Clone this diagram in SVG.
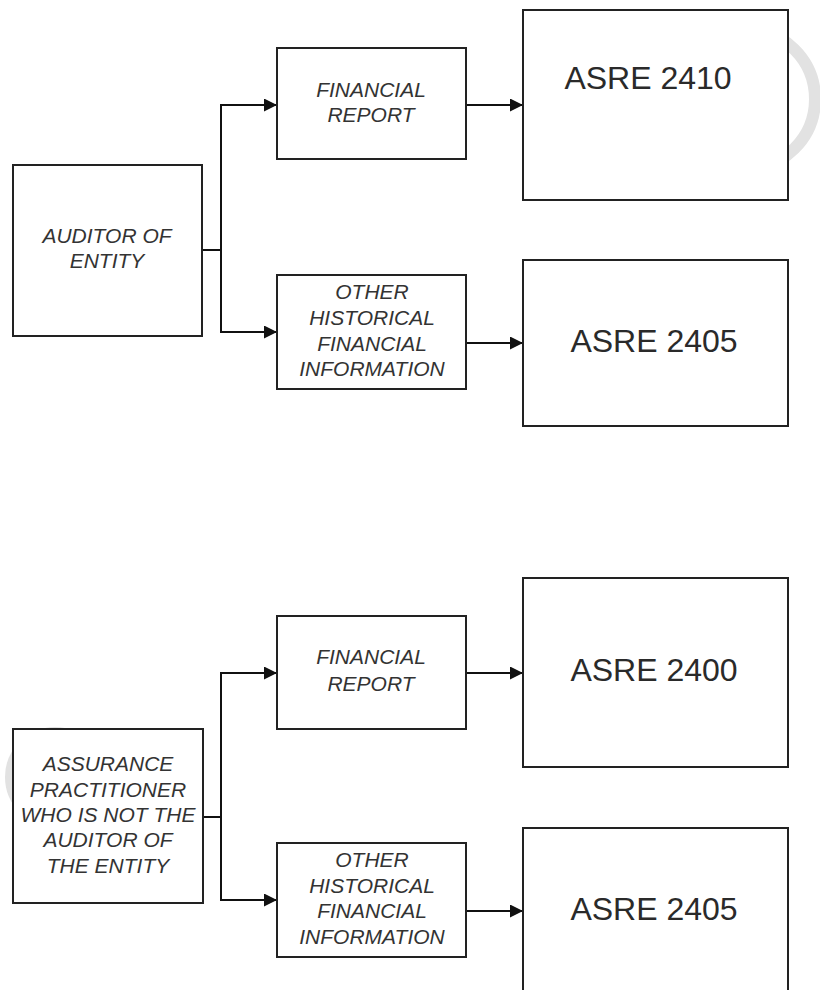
<svg xmlns="http://www.w3.org/2000/svg" width="820" height="990" viewBox="0 0 820 990">
<style>
.box{fill:#fff;stroke:#222;stroke-width:2}
.lbl{font-family:"Liberation Sans",Arial,sans-serif;font-style:italic;font-size:21px;fill:#333;text-anchor:middle}
.big{font-family:"Liberation Sans",Arial,sans-serif;font-size:32px;fill:#2a2a2a;text-anchor:middle}
.con{fill:none;stroke:#111;stroke-width:2}
.wm{fill:none;stroke:#e2e2e2}
</style>
<defs>
<marker id="arr" viewBox="0 0 14 14" refX="14" refY="7" markerUnits="userSpaceOnUse" markerWidth="14" markerHeight="13" orient="auto">
<path d="M0,0 L14,7 L0,14 z" fill="#111"/>
</marker>
</defs>
<rect width="820" height="990" fill="#fff"/>
<g id="watermark">
<circle class="wm" cx="745" cy="99" r="70" stroke-width="12"/>
<circle class="wm" cx="55" cy="777" r="45" stroke-width="10"/>
</g>
<g id="connectors">
<path class="con" d="M202,250 H221"/>
<path class="con" d="M221,250 V105 H277" marker-end="url(#arr)"/>
<path class="con" d="M221,250 V332 H277" marker-end="url(#arr)"/>
<path class="con" d="M466,105 H523" marker-end="url(#arr)"/>
<path class="con" d="M466,343 H523" marker-end="url(#arr)"/>
<path class="con" d="M203,817 H221"/>
<path class="con" d="M221,817 V673 H277" marker-end="url(#arr)"/>
<path class="con" d="M221,817 V900 H277" marker-end="url(#arr)"/>
<path class="con" d="M466,673 H523" marker-end="url(#arr)"/>
<path class="con" d="M466,911 H523" marker-end="url(#arr)"/>
</g>
<g id="auditor">
<rect class="box" x="13" y="165" width="189" height="171"/>
<text class="lbl" x="107" y="243">AUDITOR OF</text>
<text class="lbl" x="107" y="268">ENTITY</text>
</g>
<g id="fin-top">
<rect class="box" x="277" y="48" width="189" height="111"/>
<text class="lbl" x="371" y="97">FINANCIAL</text>
<text class="lbl" x="371" y="122">REPORT</text>
</g>
<g id="asre2410">
<rect class="box" x="523" y="10" width="265" height="190"/>
<text class="big" x="648" y="89">ASRE 2410</text>
</g>
<g id="other-top">
<rect class="box" x="277" y="275" width="189" height="114"/>
<text class="lbl" x="372" y="299">OTHER</text>
<text class="lbl" x="372" y="325">HISTORICAL</text>
<text class="lbl" x="372" y="351">FINANCIAL</text>
<text class="lbl" x="372" y="376">INFORMATION</text>
</g>
<g id="asre2405-top">
<rect class="box" x="523" y="260" width="265" height="166"/>
<text class="big" x="654" y="352">ASRE 2405</text>
</g>
<g id="assurance">
<rect class="box" x="13" y="729" width="190" height="174"/>
<text class="lbl" x="108" y="771">ASSURANCE</text>
<text class="lbl" x="108" y="797">PRACTITIONER</text>
<text class="lbl" x="108" y="822">WHO IS NOT THE</text>
<text class="lbl" x="108" y="847">AUDITOR OF</text>
<text class="lbl" x="108" y="873">THE ENTITY</text>
</g>
<g id="fin-bottom">
<rect class="box" x="277" y="616" width="189" height="113"/>
<text class="lbl" x="371" y="664">FINANCIAL</text>
<text class="lbl" x="371" y="691">REPORT</text>
</g>
<g id="asre2400">
<rect class="box" x="523" y="578" width="265" height="189"/>
<text class="big" x="654" y="681">ASRE 2400</text>
</g>
<g id="other-bottom">
<rect class="box" x="277" y="843" width="189" height="114"/>
<text class="lbl" x="372" y="867">OTHER</text>
<text class="lbl" x="372" y="893">HISTORICAL</text>
<text class="lbl" x="372" y="918">FINANCIAL</text>
<text class="lbl" x="372" y="944">INFORMATION</text>
</g>
<g id="asre2405-bottom">
<rect class="box" x="523" y="828" width="265" height="172"/>
<text class="big" x="654" y="920">ASRE 2405</text>
</g>
</svg>
